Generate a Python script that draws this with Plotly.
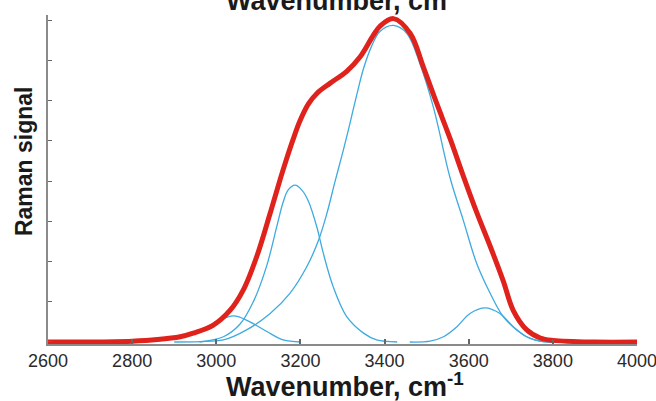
import plotly.graph_objects as go

# Total (fitted envelope) - red
red_x = [2600, 2700, 2800, 2860, 2914, 2945, 2993, 3033, 3064, 3096, 3128, 3152, 3167, 3183, 3199,
         3219, 3239, 3270, 3310, 3342, 3373, 3389, 3421, 3461, 3492, 3524, 3556, 3587, 3619, 3651,
         3682, 3706, 3738, 3770, 3801, 3900, 4000]
red_y = [0.0, 0.0, 0.02, 0.06, 0.13, 0.22, 0.42, 0.79, 1.29, 2.12, 3.20, 4.05, 4.55, 5.05, 5.50,
         5.92, 6.18, 6.43, 6.73, 7.09, 7.62, 7.85, 8.04, 7.67, 6.84, 5.93, 5.05, 4.13, 3.22, 2.38,
         1.52, 0.78, 0.30, 0.10, 0.04, 0.0, 0.0]

# Components - blue
p1_x = [2800, 2860, 2914, 2954, 2993, 3041, 3080, 3120, 3159, 3200]
p1_y = [0.0, 0.03, 0.10, 0.26, 0.46, 0.65, 0.50, 0.26, 0.05, 0.0]

p2_x = [2960, 3017, 3056, 3088, 3120, 3144, 3159, 3171, 3187, 3204, 3219, 3239, 3254, 3278, 3310, 3350, 3381, 3430]
p2_y = [0.0, 0.13, 0.44, 1.00, 1.90, 2.88, 3.48, 3.78, 3.90, 3.77, 3.50, 2.86, 2.22, 1.37, 0.63, 0.22, 0.05, 0.0]

p3_x = [2900, 2960, 3017, 3072, 3128, 3175, 3215, 3243, 3263, 3282, 3302, 3318, 3334, 3350, 3369,
        3389, 3421, 3453, 3484, 3516, 3556, 3587, 3619, 3651, 3682, 3714, 3746, 3777, 3830, 3900]
p3_y = [0.0, 0.01, 0.05, 0.30, 0.71, 1.21, 1.87, 2.53, 3.20, 3.98, 4.77, 5.45, 6.15, 6.80, 7.35,
        7.72, 7.87, 7.67, 6.92, 5.84, 4.07, 3.03, 1.95, 1.21, 0.63, 0.30, 0.09, 0.01, 0.0, 0.0]

p4_x = [3460, 3508, 3540, 3572, 3603, 3639, 3674, 3706, 3738, 3770, 3820]
p4_y = [0.0, 0.02, 0.13, 0.38, 0.71, 0.85, 0.71, 0.38, 0.13, 0.02, 0.0]

x_ticks = [2600, 2800, 3000, 3200, 3400, 3600, 3800, 4000]
x_title = "Wavenumber, cm<sup>-1</sup>"
y_title = "Raman signal"

BLUE = "#3eaadf"
RED = "#e0221c"
FONT = "Liberation Sans, Arial, sans-serif"

fig = go.Figure()
for xs, ys in [(p1_x, p1_y), (p2_x, p2_y), (p3_x, p3_y), (p4_x, p4_y)]:
    fig.add_trace(go.Scatter(x=xs, y=ys, mode="lines",
                             line=dict(color=BLUE, width=1.3, shape="spline", smoothing=1.0),
                             hoverinfo="skip", showlegend=False))
fig.add_trace(go.Scatter(x=red_x, y=red_y, mode="lines",
                         line=dict(color=RED, width=5, shape="spline", smoothing=1.0),
                         hoverinfo="skip", showlegend=False))

fig.update_layout(
    width=656, height=401,
    margin=dict(l=48, r=19, t=15, b=57, autoexpand=False),
    paper_bgcolor="white", plot_bgcolor="white",
    font=dict(family=FONT, color="#222222"),
    xaxis=dict(range=[2600, 4000], tickvals=x_ticks, ticktext=[str(v) for v in x_ticks],
               showline=True, linecolor="#8a8a8a", linewidth=1.5,
               ticks="inside", ticklen=5, tickcolor="#666666", tickwidth=1.5,
               showgrid=False, zeroline=False, ticklabeloverflow="allow", automargin=False,
               tickfont=dict(size=18, color="#2a2a2a", family=FONT)),
    yaxis=dict(range=[-0.05, 8.13], dtick=1, tick0=0, automargin=False,
               showline=True, linecolor="#8a8a8a", linewidth=1.5,
               ticks="inside", ticklen=4, tickcolor="#666666",
               showticklabels=False, showgrid=False, zeroline=False),
    annotations=[
        dict(text="<b>" + x_title + "</b>", xref="paper", yref="paper",
             x=0.504, y=-0.124, xanchor="center", yanchor="middle", showarrow=False,
             font=dict(size=27, color="#1a1a1a", family=FONT)),
        dict(text="<b>" + x_title + "</b>", xref="paper", yref="paper",
             x=0.504, y=0.991, xanchor="center", yanchor="bottom", showarrow=False,
             font=dict(size=27, color="#1a1a1a", family=FONT)),
        dict(text="<b>" + y_title + "</b>", xref="paper", yref="paper",
             x=-0.0407, y=0.556, xanchor="center", yanchor="middle", showarrow=False,
             textangle=-90, font=dict(size=23, color="#1a1a1a", family=FONT)),
    ],
)

fig.write_html("out.html")
